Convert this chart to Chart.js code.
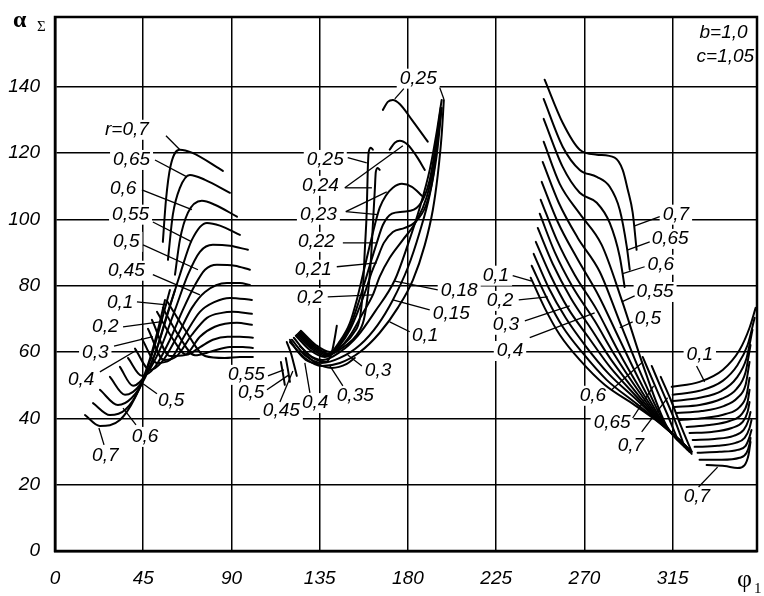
<!DOCTYPE html>
<html>
<head>
<meta charset="utf-8">
<script src="https://cdn.jsdelivr.net/npm/chart.js@4.4.1/dist/chart.umd.min.js"></script>
<style>
  html, body { margin: 0; background: #fff; }
  #wrap { width: 764px; height: 596px; }
</style>
</head>
<body>
<div id="wrap"><canvas id="chart"></canvas></div>
<script>
// phi1 (deg) on x, alpha sum (deg) on y
const xTicks = [0, 45, 90, 135, 180, 225, 270, 315];
const yTicks = [0, 20, 40, 60, 80, 100, 120, 140];

// left family, r = 0.7 ... 0.1
const left07a = [[15.3,41.0],[22.9,37.7],[33.1,39.5],[40.8,46.2],[47.4,56.1],[52.5,66.7],[56.1,75.7]];
const left07b = [[55.0,93.2],[56.6,105.9],[58.9,116.0],[63.7,121.0],[69.8,120.1],[85.6,114.6]];
const left065a = [[19.4,44.6],[28.0,41.0],[35.7,42.5],[43.3,49.2],[49.4,59.1],[54.5,69.7],[58.6,78.7]];
const left065b = [[57.6,87.8],[60.1,101.4],[63.7,109.5],[68.8,113.4],[76.5,111.9],[89.2,108.0]];
const left06a = [[22.9,48.6],[32.1,44.0],[39.2,46.2],[45.9,52.2],[52.0,61.2],[57.1,71.2],[61.2,78.7]];
const left06b = [[61.2,83.3],[63.7,93.8],[67.8,102.0],[74.9,105.6],[81.5,104.4],[92.8,100.8]];
const left055 = [[28.0,52.5],[35.7,47.1],[43.3,50.1],[51.0,59.4],[57.6,71.8],[63.7,83.3],[69.8,93.8],[77.5,98.9],[84.1,98.1],[94.3,95.3]];
const left05 = [[33.1,55.5],[39.8,49.8],[47.4,54.0],[54.5,62.1],[61.2,72.7],[67.8,83.3],[73.9,90.2],[80.5,92.3],[89.2,92.0],[98.4,90.8]];
const left045 = [[37.2,58.2],[44.3,52.8],[51.0,55.5],[58.6,63.7],[65.2,72.7],[71.4,80.2],[76.5,84.8],[82.6,86.3],[91.7,86.0],[99.4,84.8]];
const left04 = [[40.8,61.0],[48.4,54.6],[54.5,57.0],[62.7,65.2],[69.8,73.3],[76.5,78.1],[87.7,80.8],[94.3,80.8],[99.4,80.2]];
const left035 = [[44.3,64.0],[52.0,56.7],[58.6,57.6],[66.3,65.2],[73.9,72.1],[81.5,75.1],[89.2,76.3],[100.4,75.7]];
const left03 = [[47.4,67.0],[55.6,57.6],[62.2,58.8],[69.8,65.2],[77.5,70.3],[85.1,71.8],[90.7,72.1],[100.4,71.5]];
const left025 = [[49.4,69.7],[58.6,58.8],[66.3,59.1],[73.9,64.6],[81.5,67.6],[92.8,68.8],[100.4,68.2]];
const left02 = [[52.0,72.1],[60.0,64.0],[67.0,59.2],[74.0,61.5],[80.5,63.7],[88.0,64.6],[94.3,64.6],[100.9,64.3]];
const left015 = [[55.0,73.3],[63.0,65.0],[71.4,59.0],[80.0,60.2],[89.2,61.5],[95.8,61.5],[100.9,61.2]];
const left01 = [[57.1,75.4],[66.3,66.7],[76.5,58.8],[86.6,58.2],[94.3,58.5],[100.9,58.5]];

// middle family
const mid01 = [[119.8,63.0],[127.4,58.2],[136.1,55.8],[145.3,56.7],[155.5,60.0],[165.6,65.8],[174.8,73.3],[182.5,81.7],[188.6,92.3],[192.7,102.9],[195.2,113.4],[197.2,125.5],[198.3,136.0]];
const mid015 = [[120.8,63.7],[127.9,58.8],[136.1,56.7],[145.3,58.2],[155.5,62.1],[164.6,68.2],[172.3,75.7],[179.9,85.4],[186.0,96.2],[191.1,107.4],[194.7,119.5],[197.2,133.6]];
const mid018 = [[121.8,64.3],[128.9,59.4],[136.6,57.6],[145.3,60.0],[154.4,64.9],[163.1,72.1],[173.3,81.7],[179.9,92.3],[186.0,103.5],[191.1,114.9],[194.7,126.4],[197.2,136.0]];
const mid02 = [[122.8,64.9],[130.0,60.6],[137.6,58.5],[145.3,61.2],[151.4,65.8],[156.5,71.2],[162.1,77.2],[165.6,82.7],[170.7,88.4],[177.4,93.8],[184.0,99.2],[189.6,106.8],[193.7,117.9],[196.7,131.5]];
const mid021 = [[123.3,65.2],[131.0,60.9],[138.1,58.8],[145.3,62.1],[150.4,66.7],[154.4,72.1],[158.5,78.7],[161.6,84.2],[164.1,87.8],[167.7,92.9],[172.3,96.2],[178.4,97.4],[183.7,99.2],[189.1,104.1],[192.7,112.5],[195.7,127.0]];
const mid022 = [[123.9,65.5],[131.5,61.2],[138.6,59.1],[145.3,62.7],[150.4,67.6],[154.4,74.2],[158.0,81.1],[161.1,87.2],[164.1,92.9],[167.2,98.3],[171.8,101.7],[177.4,102.3],[183.0,102.9],[187.6,105.9],[191.1,111.9],[194.2,122.5],[196.7,133.6]];
const mid023 = [[124.4,65.8],[132.0,61.5],[139.1,59.4],[145.3,63.3],[150.4,68.8],[153.9,75.7],[157.0,83.3],[160.0,90.8],[163.1,98.3],[165.6,103.5],[168.7,107.1],[172.3,109.5],[176.9,110.7],[182.0,109.8],[187.1,107.1]];
const mid024 = [[124.9,66.1],[132.5,61.8],[140.2,59.4],[147.8,61.8],[153.9,65.2],[157.5,69.7],[159.5,77.2],[161.1,87.8],[162.1,98.3],[163.1,108.9],[163.6,114.3],[164.6,115.5],[165.6,114.9]];
const mid025 = [[125.4,66.4],[133.0,62.1],[140.2,60.0],[147.3,62.4],[152.4,65.8],[155.5,70.3],[157.0,78.7],[158.0,90.8],[159.0,102.9],[159.5,114.9],[160.0,120.4],[161.1,121.6],[162.1,121.0]];
const mid024top = [[170.7,121.0],[173.3,123.1],[175.8,123.7],[179.9,122.5],[184.5,118.9],[188.6,114.9]];
const mid025top = [[167.2,133.0],[169.7,135.4],[172.3,136.0],[175.8,134.8],[182.0,130.0],[190.1,123.4]];
const mid03 = [[124.9,61.8],[131.5,58.2],[138.1,57.0],[141.2,60.0],[142.7,64.3],[143.7,67.9]];
const mid035 = [[126.4,60.0],[133.0,56.7],[141.2,55.2],[148.8,56.4],[152.9,58.2]];
const mid04 = [[119.8,63.7],[123.9,60.0],[127.9,57.6],[133.0,56.4]];
const mid045 = [[118.2,63.0],[120.3,59.7],[121.8,56.4],[123.3,52.8]];
const mid05 = [[117.7,58.2],[118.8,54.6],[119.8,51.0]];
const mid055 = [[115.2,57.0],[116.2,53.7],[117.2,50.1]];

// right family, falling branches
const right07 = [[249.7,142.1],[258.9,129.1],[267.6,121.0],[276.3,119.5],[285.4,118.6],[289.5,114.9],[292.1,108.9],[294.6,102.0],[296.6,90.8]];
const right065 = [[249.2,136.3],[258.9,121.9],[267.6,114.9],[276.3,112.8],[282.9,109.8],[288.0,102.9],[291.6,91.7],[293.1,84.8]];
const right06 = [[249.2,130.3],[258.9,115.8],[267.6,108.0],[276.3,105.0],[282.9,98.9],[288.0,88.7],[290.5,79.6]];
const right055 = [[249.2,123.4],[257.4,110.7],[267.6,101.7],[278.8,92.3],[289.0,75.7],[300.7,54.6],[311.9,37.7],[322.6,30.5]];
const right05 = [[248.7,117.3],[256.9,105.0],[266.6,94.4],[277.8,84.2],[288.0,69.1],[299.7,52.2],[311.4,38.0],[323.6,29.9]];
const right045 = [[248.2,111.3],[256.4,99.2],[266.1,88.4],[277.3,76.9],[287.5,64.3],[299.2,50.1],[310.9,38.0],[324.7,29.3]];
const right04 = [[247.7,105.9],[255.9,93.8],[265.0,83.3],[276.3,72.7],[286.4,61.2],[298.7,48.6],[310.4,38.3],[324.7,29.9]];
const right035 = [[247.2,101.7],[254.8,90.2],[264.0,79.6],[275.2,69.4],[285.4,59.1],[298.2,47.7],[309.9,38.3],[323.6,30.5]];
const right03 = [[246.2,97.4],[253.8,86.6],[263.0,76.3],[273.7,66.7],[284.4,57.0],[297.7,46.8],[309.4,38.6],[322.6,31.1]];
const right025 = [[245.2,93.2],[252.8,83.0],[261.5,73.3],[272.2,64.3],[283.4,55.2],[297.1,46.2],[308.9,38.6],[321.6,31.7]];
const right02 = [[244.1,89.6],[251.8,79.3],[260.4,70.3],[270.6,61.8],[282.4,53.4],[296.6,45.6],[308.4,38.9],[320.6,32.3]];
const right015 = [[243.1,86.0],[250.8,76.3],[258.9,67.6],[269.1,59.7],[281.3,51.6],[296.1,44.6],[307.3,39.2],[319.6,32.9]];
const right01 = [[242.6,82.4],[249.7,73.3],[257.4,65.2],[267.6,57.6],[280.3,50.1],[295.6,44.0],[306.3,39.5],[318.6,33.5]];
const right06low = [[299.7,58.5],[305.8,50.1],[312.4,41.0],[317.0,34.4]];
const right065low = [[304.3,55.8],[309.9,48.0],[316.0,39.5],[321.1,31.4]];
const right07low = [[308.9,52.5],[314.0,45.6],[319.6,37.1],[324.7,29.9]];

// bottom right family, r = 0.1 (top) ... 0.7 (bottom)
const corner01 = [[314.5,49.5],[328.7,51.0],[340.5,54.6],[349.1,60.6],[354.2,67.3],[357.3,73.3]];
const corner015 = [[315.0,47.1],[328.7,48.3],[340.5,51.3],[348.1,56.1],[353.2,62.1],[356.8,70.3]];
const corner02 = [[315.0,45.2],[328.7,46.2],[340.0,48.3],[347.6,52.2],[352.7,58.2],[355.7,66.7]];
const corner025 = [[316.0,43.4],[328.7,44.0],[340.0,45.9],[347.6,48.9],[352.2,54.0],[354.7,62.1]];
const corner03 = [[317.0,41.6],[329.8,42.2],[341.0,43.7],[348.1,46.2],[352.2,50.1],[354.2,57.0]];
const corner035 = [[318.6,39.5],[331.3,40.1],[342.0,41.3],[349.1,43.4],[352.7,47.1],[354.2,52.2]];
const corner04 = [[322.1,37.4],[333.8,38.0],[344.0,39.2],[350.2,41.3],[353.2,44.9],[354.2,48.6]];
const corner045 = [[323.6,35.6],[334.9,35.9],[345.1,37.1],[350.7,38.9],[353.2,41.9],[354.2,44.9]];
const corner05 = [[325.2,33.5],[336.4,33.8],[346.1,34.7],[351.2,36.5],[353.7,39.5],[354.7,41.9]];
const corner055 = [[326.2,31.4],[337.9,31.7],[347.1,32.6],[351.7,34.1],[354.2,37.1],[355.2,39.5]];
const corner06 = [[327.7,29.6],[338.9,29.9],[348.1,30.5],[352.2,31.7],[354.2,34.4],[355.2,36.5]];
const corner065 = [[328.7,27.5],[340.0,27.5],[349.1,28.1],[352.7,29.6],[354.2,32.3],[354.7,34.1]];
const corner07 = [[332.3,25.9],[341.5,25.6],[348.1,25.0],[351.7,25.9],[353.7,29.0],[354.7,32.9]];

const curves = [
  left07a, left07b, left065a, left065b, left06a, left06b, left055, left05, left045,
  left04, left035, left03, left025, left02, left015, left01,
  mid01, mid015, mid018, mid02, mid021, mid022, mid023, mid024, mid025,
  mid024top, mid025top, mid03, mid035, mid04, mid045, mid05, mid055,
  right07, right065, right06, right055, right05, right045, right04, right035,
  right03, right025, right02, right015, right01, right06low, right065low, right07low,
  corner01, corner015, corner02, corner025, corner03, corner035, corner04,
  corner045, corner05, corner055, corner06, corner065, corner07
];

// curve labels: text, anchor (left/middle), leader lines
const notes = [
  { t: 'r=0,7', at: [25.5, 127.0], leaders: [[[56.6, 125.2], [63.7, 121.0]]] },
  { t: '0,65', at: [29.6, 117.9], leaders: [[[51.0, 117.9], [67.3, 112.8]]] },
  { t: '0,6', at: [28.0, 109.2], leaders: [[[44.3, 108.9], [69.8, 102.9]]] },
  { t: '0,55', at: [29.1, 101.4], leaders: [[[49.9, 99.2], [69.8, 93.2]]] },
  { t: '0,5', at: [29.6, 93.2], leaders: [[[44.9, 92.3], [72.9, 84.8]]] },
  { t: '0,45', at: [27.0, 84.5], leaders: [[[49.9, 83.3], [73.9, 77.2]]] },
  { t: '0,1', at: [26.5, 74.8], leaders: [[[41.8, 75.1], [57.1, 74.2]]] },
  { t: '0,2', at: [18.9, 67.6], leaders: [[[34.7, 67.6], [53.5, 69.1]]] },
  { t: '0,3', at: [13.8, 59.7], leaders: [[[30.1, 61.8], [49.9, 64.6]]] },
  { t: '0,4', at: [6.6, 51.6], leaders: [[[22.9, 54.0], [41.8, 60.6]]] },
  { t: '0,5', at: [52.5, 45.2], leaders: [[[52.0, 47.4], [44.9, 50.4]]] },
  { t: '0,6', at: [39.2, 34.4], leaders: [[[41.3, 38.0], [34.7, 43.1]]] },
  { t: '0,7', at: [18.9, 28.7], leaders: [[[25.0, 32.0], [22.4, 37.1]]] },
  { t: '0,25', at: [175.8, 142.4], leaders: [[[177.9, 139.4], [173.3, 136.3]], [[196.2, 139.7], [198.3, 136.3]]] },
  { t: '0,25', at: [128.4, 117.9], leaders: [[[149.3, 118.6], [159.0, 117.0]]] },
  { t: '0,24', at: [125.9, 110.1], leaders: [[[147.8, 109.5], [161.6, 109.5]], [[147.8, 109.5], [177.4, 122.2]]] },
  { t: '0,23', at: [124.9, 101.4], leaders: [[[148.3, 102.3], [164.6, 101.4]], [[148.3, 102.3], [169.2, 108.3]]] },
  { t: '0,22', at: [123.9, 93.2], leaders: [[[146.8, 92.9], [164.1, 92.9]]] },
  { t: '0,21', at: [122.3, 84.8], leaders: [[[143.7, 85.7], [164.1, 86.9]]] },
  { t: '0,2', at: [123.3, 76.3], leaders: [[[139.1, 76.6], [162.1, 77.2]]] },
  { t: '0,18', at: [196.7, 78.4], leaders: [[[195.2, 78.7], [173.3, 81.4]]] },
  { t: '0,15', at: [192.7, 71.5], leaders: [[[191.1, 72.7], [172.3, 75.7]]] },
  { t: '0,1', at: [182.0, 64.9], leaders: [[[180.9, 66.1], [170.7, 69.1]]] },
  { t: '0,3', at: [158.0, 54.3], leaders: [[[156.5, 55.8], [149.3, 59.1]]] },
  { t: '0,35', at: [143.7, 46.8], leaders: [[[146.8, 49.8], [140.2, 55.8]]] },
  { t: '0,4', at: [125.9, 44.6], leaders: [[[130.0, 47.7], [127.4, 56.7]]] },
  { t: '0,45', at: [106.0, 42.2], leaders: [[[114.7, 44.9], [121.3, 54.3]]] },
  { t: '0,5', at: [93.3, 47.7], leaders: [[[108.1, 48.6], [119.3, 53.1]]] },
  { t: '0,55', at: [88.2, 53.1], leaders: [[[108.6, 52.8], [116.7, 54.6]]] },
  { t: '0,7', at: [309.9, 101.4], leaders: [[[308.4, 100.8], [295.6, 98.0]]] },
  { t: '0,65', at: [304.3, 94.1], leaders: [[[303.3, 93.2], [292.1, 90.8]]] },
  { t: '0,6', at: [302.2, 86.3], leaders: [[[300.7, 85.7], [289.5, 83.6]]] },
  { t: '0,55', at: [296.6, 78.1], leaders: [[[295.6, 76.9], [289.0, 75.1]]] },
  { t: '0,5', at: [295.6, 70.0], leaders: [[[294.6, 69.1], [288.0, 67.3]]] },
  { t: '0,1', at: [218.1, 83.0], leaders: [[[233.4, 83.0], [243.1, 81.4]]] },
  { t: '0,2', at: [220.2, 75.4], leaders: [[[236.5, 75.7], [251.3, 76.6]]] },
  { t: '0,3', at: [223.2, 68.2], leaders: [[[239.6, 69.4], [262.5, 73.9]]] },
  { t: '0,4', at: [225.3, 60.3], leaders: [[[242.1, 64.3], [275.2, 71.8]]] },
  { t: '0,6', at: [267.6, 46.8], leaders: [[[283.9, 48.6], [299.7, 57.0]]] },
  { t: '0,65', at: [274.7, 38.6], leaders: [[[294.6, 40.1], [305.3, 49.8]]] },
  { t: '0,7', at: [287.0, 31.7], leaders: [[[299.2, 35.9], [312.4, 46.2]]] },
  { t: '0,1', at: [322.1, 59.1], leaders: [[[327.2, 55.8], [331.3, 51.0]]] },
  { t: '0,7', at: [320.6, 16.3], leaders: [[[328.2, 19.3], [337.9, 25.3]]] },
  { t: 'b=1,0', at: [328.7, 156.3], leaders: [] },
  { t: 'c=1,05', at: [327.2, 149.0], leaders: [] }
];

const FONT = "'Liberation Sans', 'DejaVu Sans', sans-serif";
const LABEL_FONT = 'italic 19px ' + FONT;

const notesPlugin = {
  id: 'notes',
  beforeDatasetsDraw(chart) {
    const { ctx, scales: { x, y } } = chart;
    ctx.save();
    ctx.font = LABEL_FONT;
    ctx.fillStyle = '#fff';
    notes.forEach(n => {
      const w = ctx.measureText(n.t).width;
      ctx.fillRect(x.getPixelForValue(n.at[0]) - 3, y.getPixelForValue(n.at[1]) - 10, w + 6, 20);
    });
    ctx.restore();
  },
  afterDatasetsDraw(chart) {
    const { ctx, chartArea: a, scales: { x, y } } = chart;
    ctx.save();
    ctx.strokeStyle = '#000';
    ctx.lineWidth = 1.3;
    notes.forEach(n => {
      n.leaders.forEach(([p, q]) => {
        ctx.beginPath();
        ctx.moveTo(x.getPixelForValue(p[0]), y.getPixelForValue(p[1]));
        ctx.lineTo(x.getPixelForValue(q[0]), y.getPixelForValue(q[1]));
        ctx.stroke();
      });
    });
    ctx.font = LABEL_FONT;
    ctx.fillStyle = '#000';
    ctx.textAlign = 'left';
    ctx.textBaseline = 'middle';
    notes.forEach(n => {
      ctx.fillText(n.t, x.getPixelForValue(n.at[0]), y.getPixelForValue(n.at[1]));
    });
    // frame
    ctx.lineWidth = 2.5;
    ctx.strokeRect(a.left, a.top, a.right - a.left, a.bottom - a.top);
    ctx.restore();
  },
  afterDraw(chart) {
    const { ctx } = chart;
    ctx.save();
    ctx.fillStyle = '#000';
    ctx.textAlign = 'left';
    ctx.textBaseline = 'alphabetic';
    ctx.font = "bold 24px 'Liberation Serif', serif";
    ctx.fillText('α', 13, 27);
    ctx.font = "15px 'Liberation Serif', serif";
    ctx.fillText('Σ', 37, 31);
    ctx.font = "26px 'Liberation Serif', serif";
    ctx.fillText('φ', 737, 587);
    ctx.font = "15px 'Liberation Serif', serif";
    ctx.fillText('1', 754, 593);
    ctx.restore();
  }
};

const tickFont = { family: FONT, size: 19, style: 'italic' };

new Chart(document.getElementById('chart'), {
  type: 'scatter',
  data: {
    datasets: curves.map(c => ({
      data: c.map(([x, y]) => ({ x, y })),
      showLine: true,
      borderColor: '#000',
      borderWidth: 2,
      pointRadius: 0,
      fill: false,
      cubicInterpolationMode: 'monotone',
      borderCapStyle: 'round',
      borderJoinStyle: 'round'
    }))
  },
  options: {
    responsive: true,
    maintainAspectRatio: false,
    animation: false,
    layout: { padding: { top: 17, right: 7, left: 0, bottom: 0 } },
    plugins: { legend: { display: false }, tooltip: { enabled: false } },
    scales: {
      x: {
        type: 'linear',
        min: 0,
        max: 358,
        afterBuildTicks: s => { s.ticks = xTicks.map(v => ({ value: v })); },
        afterFit: s => { s.height = 45; s.paddingLeft = 0; s.paddingRight = 0; },
        grid: { color: '#000', lineWidth: 1.5, drawTicks: false },
        border: { color: '#000', width: 2.5 },
        ticks: { color: '#000', font: tickFont, padding: 16, maxRotation: 0, autoSkip: false }
      },
      y: {
        type: 'linear',
        min: 0,
        max: 161,
        afterBuildTicks: s => { s.ticks = yTicks.map(v => ({ value: v })); },
        afterFit: s => { s.width = 55; s.paddingTop = 0; s.paddingBottom = 0; },
        grid: { color: '#000', lineWidth: 1.5, drawTicks: false },
        border: { color: '#000', width: 2.5 },
        ticks: { color: '#000', font: tickFont, padding: 15, autoSkip: false }
      }
    }
  },
  plugins: [notesPlugin]
});
</script>
</body>
</html>
